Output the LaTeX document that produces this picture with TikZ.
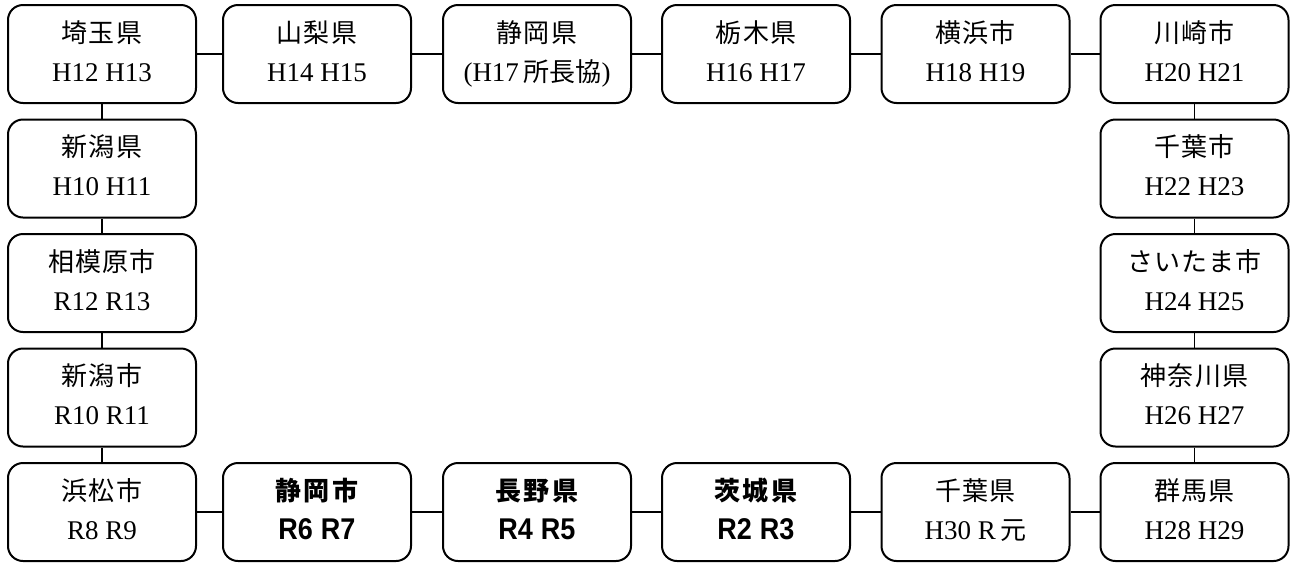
\documentclass[tikz,border=0pt]{standalone}
\usepackage{fontspec}
\setmainfont{Liberation Serif}
\newfontfamily\jpf{Noto Sans CJK JP}
\newfontfamily\blat[FakeStretch=0.9]{Liberation Sans}
\newcommand\jsp{\kern0.6pt}
\newcommand\jspb{\kern1.5pt}
\newcommand\jl[1]{{\jpf\fontsize{13pt}{19.5pt}\selectfont #1}}
\newcommand\jlb[1]{{\jpf\bfseries\fontsize{13pt}{19.5pt}\selectfont #1}}
\newcommand\latl[1]{{\fontsize{13.5pt}{19.5pt}\selectfont #1}\rule[-3pt]{0pt}{3pt}}
\newcommand\latlb[1]{{\blat\bfseries\fontsize{15pt}{19.5pt}\selectfont #1}\rule[-3pt]{0pt}{3pt}}
\tikzset{
  x=0.5pt, y=-0.5pt,
  boxs/.style={draw, line width=1pt, rounded corners=7.5pt, minimum width=94pt,
    minimum height=49pt, inner sep=0pt, align=center,
    font=\fontsize{13.5pt}{19.5pt}\selectfont},
  link/.style={draw, line width=0.6pt}
}
\begin{document}
\begin{tikzpicture}
\useasboundingbox (0,0) rectangle (1292,563);
% top row
\node[boxs] (saitama) at (102,54) {\jl{埼\jsp 玉\jsp 県}\\\latl{H12 H13}};
\node[boxs] (yamanashi) at (317,54) {\jl{山\jsp 梨\jsp 県}\\\latl{H14 H15}};
\node[boxs] (shizuokaken) at (537,54) {\jl{静\jsp 岡\jsp 県}\\\latl{(H17\,\jl{所長協})}};
\node[boxs] (tochigi) at (756,54) {\jl{栃\jsp 木\jsp 県}\\\latl{H16 H17}};
\node[boxs] (yokohama) at (975.5,54) {\jl{横\jsp 浜\jsp 市}\\\latl{H18 H19}};
\node[boxs] (kawasaki) at (1194.5,54) {\jl{川\jsp 崎\jsp 市}\\\latl{H20 H21}};
% right column
\node[boxs] (chibashi) at (1194.5,168.5) {\jl{千\jsp 葉\jsp 市}\\\latl{H22 H23}};
\node[boxs] (saitamashi) at (1194.5,283) {\jl{さ\jsp い\jsp た\jsp ま\jsp 市}\\\latl{H24 H25}};
\node[boxs] (kanagawa) at (1194.5,397.5) {\jl{神\jsp 奈\jsp 川\jsp 県}\\\latl{H26 H27}};
\node[boxs] (gunma) at (1194.5,512) {\jl{群\jsp 馬\jsp 県}\\\latl{H28 H29}};
% bottom row
\node[boxs] (chibaken) at (975.5,512) {\jl{千\jsp 葉\jsp 県}\\\latl{H30 R\,\jl{元}}};
\node[boxs] (ibaraki) at (756,512) {\jlb{茨\jspb 城\jspb 県}\\\latlb{R2\hspace{4pt}R3}};
\node[boxs] (nagano) at (537,512) {\jlb{長\jspb 野\jspb 県}\\\latlb{R4\hspace{4pt}R5}};
\node[boxs] (shizuokashi) at (317,512) {\jlb{静\jspb 岡\jspb 市}\\\latlb{R6\hspace{4pt}R7}};
\node[boxs] (hamamatsu) at (102,512) {\jl{浜\jsp 松\jsp 市}\\\latl{R8 R9}};
% left column
\node[boxs] (niigatashi) at (102,397.5) {\jl{新\jsp 潟\jsp 市}\\\latl{R10 R11}};
\node[boxs] (sagamihara) at (102,283) {\jl{相\jsp 模\jsp 原\jsp 市}\\\latl{R12 R13}};
\node[boxs] (niigataken) at (102,168.5) {\jl{新\jsp 潟\jsp 県}\\\latl{H10 H11}};
% connectors
\draw[link] (saitama) -- (yamanashi);
\draw[link] (yamanashi) -- (shizuokaken);
\draw[link] (shizuokaken) -- (tochigi);
\draw[link] (tochigi) -- (yokohama);
\draw[link] (yokohama) -- (kawasaki);
\draw[link] (kawasaki) -- (chibashi);
\draw[link] (chibashi) -- (saitamashi);
\draw[link] (saitamashi) -- (kanagawa);
\draw[link] (kanagawa) -- (gunma);
\draw[link] (gunma) -- (chibaken);
\draw[link] (chibaken) -- (ibaraki);
\draw[link] (ibaraki) -- (nagano);
\draw[link] (nagano) -- (shizuokashi);
\draw[link] (shizuokashi) -- (hamamatsu);
\draw[link] (hamamatsu) -- (niigatashi);
\draw[link] (niigatashi) -- (sagamihara);
\draw[link] (sagamihara) -- (niigataken);
\draw[link] (niigataken) -- (saitama);
\end{tikzpicture}
\end{document}
